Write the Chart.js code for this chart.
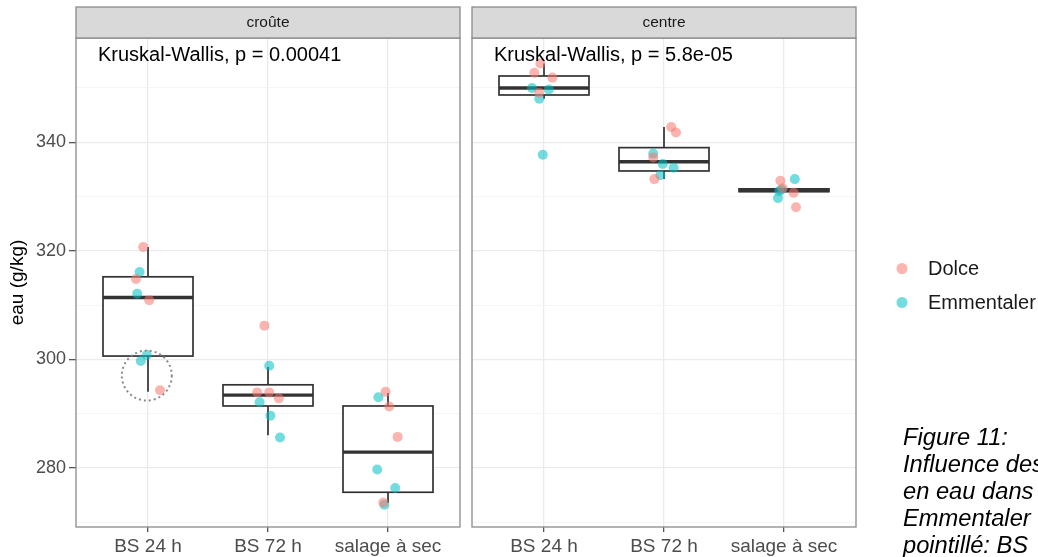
<!DOCTYPE html>
<html>
<head>
<meta charset="utf-8">
<script src="https://cdn.jsdelivr.net/npm/chart.js@4.4.1/dist/chart.umd.min.js"></script>
<style>
  html, body { margin: 0; padding: 0; background: #fff; overflow: hidden; }
  #wrap { position: relative; width: 1038px; height: 557px; overflow: hidden; }
  canvas { position: absolute; top: 0; }
  #caption {
    position: absolute; left: 903px; top: 424px; white-space: nowrap;
    font-family: "Liberation Sans", Arial, sans-serif; font-style: italic;
    font-size: 23.7px; line-height: 27px; color: #000;
  }
</style>
</head>
<body>
<div id="wrap">
  <canvas id="croute" width="466" height="557" style="left:0"></canvas>
  <canvas id="centre" width="572" height="557" style="left:466px"></canvas>
  <div id="caption">Figure 11:<br>Influence des<br>en eau dans<br>Emmentaler<br>pointillé: BS</div>
</div>
<script>
const categories = ['BS 24 h', 'BS 72 h', 'salage à sec'];
const panelNames = ['croûte', 'centre'];
const pLabels = ['Kruskal-Wallis, p = 0.00041', 'Kruskal-Wallis, p = 5.8e-05'];
const groups = ['Dolce', 'Emmentaler'];
const yMajor = [280, 300, 320, 340];
const yMinor = [270, 290, 310, 330, 350];

// box statistics per category
const crouteLow  = [294.0, 286.0, 273.5];
const crouteQ1   = [300.6, 291.4, 275.5];
const crouteMed  = [311.4, 293.4, 282.9];
const crouteQ3   = [315.2, 295.3, 291.4];
const crouteHigh = [320.7, 298.6, 293.8];

const centreLow  = [348.0, 333.2, 330.9];
const centreQ1   = [348.7, 334.7, 330.9];
const centreMed  = [350.0, 336.4, 331.1];
const centreQ3   = [352.2, 339.0, 331.4];
const centreHigh = [354.5, 342.8, 331.4];

// jittered points: 4 per category
const pointCat = [1, 1, 1, 1, 2, 2, 2, 2, 3, 3, 3, 3];

const crouteDolce  = [320.7, 314.8, 310.9, 294.3, 306.2, 293.9, 293.9, 292.8, 294.0, 291.3, 285.7, 273.6];
const crouteDolceJ = [-0.04, -0.10, 0.01, 0.10, -0.03, -0.09, 0.01, 0.09, -0.02, 0.01, 0.08, -0.04];
const crouteEmm    = [316.1, 312.1, 300.8, 299.7, 298.8, 292.1, 289.6, 285.6, 293.0, 279.7, 276.3, 273.2];
const crouteEmmJ   = [-0.07, -0.09, -0.01, -0.06, 0.01, -0.07, 0.02, 0.10, -0.08, -0.09, 0.06, -0.03];

const centreDolce  = [354.5, 352.8, 351.9, 349.1, 342.8, 341.8, 337.2, 333.2, 332.9, 331.5, 330.7, 328.0];
const centreDolceJ = [-0.03, -0.08, 0.07, -0.04, 0.06, 0.10, -0.09, -0.08, -0.03, -0.01, 0.08, 0.10];
const centreEmm    = [350.0, 349.7, 348.0, 337.7, 337.9, 336.0, 335.3, 333.9, 333.2, 331.3, 331.0, 329.7];
const centreEmmJ   = [-0.10, 0.04, -0.04, -0.01, -0.09, -0.01, 0.08, -0.03, 0.09, -0.02, -0.04, -0.05];

// dotted highlight circle (croûte, BS 24 h)
const highlightCat = 0.99;
const highlightValue = 297.0;

const groupColors = ['rgba(248,118,109,0.55)', 'rgba(0,191,196,0.55)'];
const FONT = '"Liberation Sans", Arial, Helvetica, sans-serif';
Chart.defaults.font.family = FONT;

const toPoints = (vals, jit) => vals.map((v, i) => ({ x: pointCat[i] + jit[i], y: v }));

const facetPlugin = {
    id: 'facet',
    beforeDatasetsDraw(chart, args, o) {
        const c = chart.ctx, xs = chart.scales.x, ys = chart.scales.y;
        const half = (xs.getPixelForValue(1.375) - xs.getPixelForValue(1));
        c.save();
        categories.forEach((_, i) => {
            const cx = xs.getPixelForValue(i + 1);
            const top = ys.getPixelForValue(o.q3[i]);
            const bot = ys.getPixelForValue(o.q1[i]);
            c.strokeStyle = '#333';
            c.lineWidth = 1.7;
            c.beginPath();
            c.moveTo(cx, ys.getPixelForValue(o.high[i])); c.lineTo(cx, top);
            c.moveTo(cx, bot); c.lineTo(cx, ys.getPixelForValue(o.low[i]));
            c.stroke();
            c.fillStyle = '#fff';
            c.fillRect(cx - half, top, half * 2, bot - top);
            c.strokeRect(cx - half, top, half * 2, bot - top);
            c.lineWidth = 3.4;
            const my = ys.getPixelForValue(o.med[i]);
            c.beginPath(); c.moveTo(cx - half, my); c.lineTo(cx + half, my); c.stroke();
        });
        c.restore();
    },
    afterDatasetsDraw(chart, args, o) {
        const c = chart.ctx, a = chart.chartArea;
        const xs = chart.scales.x, ys = chart.scales.y;
        c.save();
        if (o.highlight) {
            c.strokeStyle = '#8a8a8a';
            c.lineWidth = 2;
            c.setLineDash([2, 3]);
            c.beginPath();
            c.arc(xs.getPixelForValue(highlightCat), ys.getPixelForValue(highlightValue), 25, 0, Math.PI * 2);
            c.stroke();
            c.setLineDash([]);
        }
        c.fillStyle = '#000';
        c.font = '20px ' + FONT;
        c.textBaseline = 'middle';
        c.textAlign = 'left';
        c.fillText(o.label, a.left + 22, a.top + 17);
        c.restore();
    },
    afterDraw(chart, args, o) {
        const c = chart.ctx, a = chart.chartArea;
        c.save();
        // panel border
        c.strokeStyle = '#8a8a8a';
        c.lineWidth = 1.3;
        c.strokeRect(a.left, a.top, a.right - a.left, a.bottom - a.top);
        // strip
        c.fillStyle = '#d9d9d9';
        c.fillRect(a.left, a.top - 31, a.right - a.left, 31);
        c.strokeRect(a.left, a.top - 31, a.right - a.left, 31);
        c.fillStyle = '#1a1a1a';
        c.font = '15.5px ' + FONT;
        c.textAlign = 'center';
        c.textBaseline = 'middle';
        c.fillText(o.strip, (a.left + a.right) / 2, a.top - 15);
        // legend
        if (o.legend) {
            const mid = (a.top + a.bottom) / 2 + 3;
            chart.data.datasets.forEach((ds, i) => {
                const y = mid - 17 + i * 34;
                c.fillStyle = ds.backgroundColor;
                c.beginPath(); c.arc(a.right + 46, y, 5.5, 0, Math.PI * 2); c.fill();
                c.fillStyle = '#1a1a1a';
                c.font = '20px ' + FONT;
                c.textAlign = 'left';
                c.fillText(ds.label, a.right + 72, y + 1);
            });
        }
        c.restore();
    }
};

function drawPanel(canvasId, idx, stats, dolce, emm, first) {
    const ctx = document.getElementById(canvasId).getContext('2d');
    return new Chart(ctx, {
        type: 'scatter',
        data: {
            datasets: [
                { label: groups[0], data: dolce, backgroundColor: groupColors[0], borderWidth: 0, pointRadius: 5, pointHoverRadius: 5 },
                { label: groups[1], data: emm, backgroundColor: groupColors[1], borderWidth: 0, pointRadius: 5, pointHoverRadius: 5 }
            ]
        },
        options: {
            responsive: false,
            animation: false,
            devicePixelRatio: 1,
            layout: { padding: { top: 38, right: first ? 6 : 182, left: 0, bottom: 0 } },
            scales: {
                x: {
                    type: 'linear', min: 0.4, max: 3.6,
                    afterBuildTicks: s => { s.ticks = categories.map((_, i) => ({ value: i + 1 })); },
                    afterFit: s => { s.height = 30; },
                    border: { display: false },
                    grid: { color: '#ebebeb', lineWidth: 1.3, tickColor: '#555', tickLength: 5 },
                    ticks: {
                        autoSkip: false, maxRotation: 0, padding: 3,
                        color: '#4d4d4d', font: { size: 19 },
                        callback: v => categories[v - 1]
                    }
                },
                y: {
                    min: 269.1, max: 359.2,
                    afterBuildTicks: s => { s.ticks = yMajor.concat(yMinor).sort((p, q) => p - q).map(v => ({ value: v })); },
                    afterFit: s => { s.width = first ? 76 : 6; },
                    border: { display: false },
                    grid: {
                        color: t => yMajor.includes(t.tick.value) ? '#ebebeb' : '#f3f3f3',
                        lineWidth: t => yMajor.includes(t.tick.value) ? 1.3 : 0.8,
                        tickColor: t => yMajor.includes(t.tick.value) ? '#555' : 'rgba(0,0,0,0)',
                        tickLength: 7,
                        drawTicks: first
                    },
                    ticks: {
                        display: first, padding: 3,
                        color: '#4d4d4d', font: { size: 18 },
                        callback: v => yMajor.includes(v) ? String(v) : ''
                    },
                    title: {
                        display: first, text: 'eau (g/kg)', color: '#000',
                        font: { size: 19 }, padding: { top: 6, bottom: 0 }
                    }
                }
            },
            plugins: {
                legend: { display: false },
                tooltip: { enabled: false },
                facet: {
                    strip: panelNames[idx], label: pLabels[idx],
                    low: stats[0], q1: stats[1], med: stats[2], q3: stats[3], high: stats[4],
                    highlight: first, legend: !first
                }
            }
        },
        plugins: [facetPlugin]
    });
}

drawPanel('croute', 0, [crouteLow, crouteQ1, crouteMed, crouteQ3, crouteHigh],
    toPoints(crouteDolce, crouteDolceJ), toPoints(crouteEmm, crouteEmmJ), true);
drawPanel('centre', 1, [centreLow, centreQ1, centreMed, centreQ3, centreHigh],
    toPoints(centreDolce, centreDolceJ), toPoints(centreEmm, centreEmmJ), false);
</script>
</body>
</html>
